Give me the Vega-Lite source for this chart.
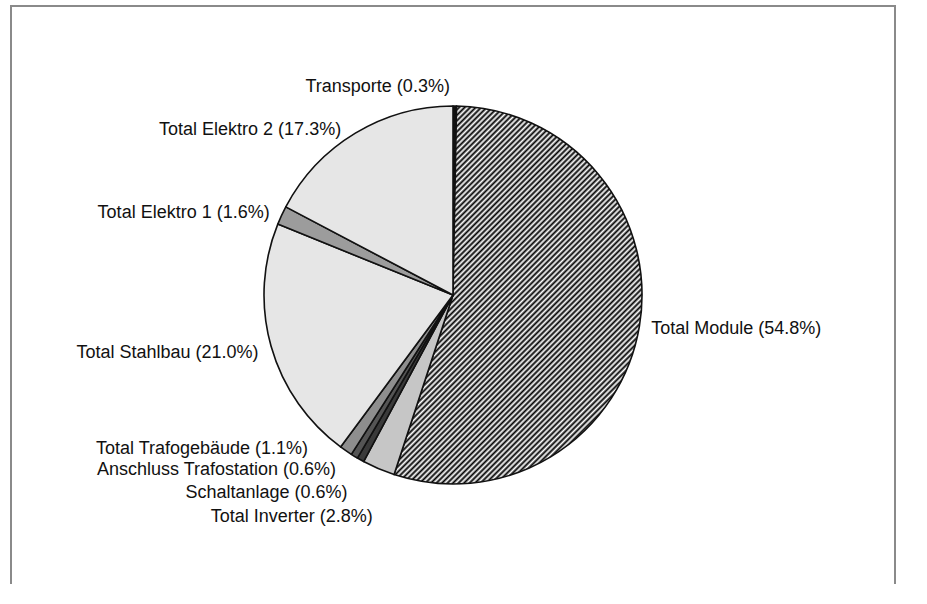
{
  "$schema": "https://vega.github.io/schema/vega-lite/v6.json",
  "autosize": "none",
  "width": 884,
  "height": 578,
  "padding": {"left": 11, "top": 6, "right": 32, "bottom": 20},
  "background": "white",
  "view": {"stroke": "#8a8a8a", "strokeWidth": 2, "strokeDash": [1462, 884, 600]},
  "config": {
    "text": {"font": "Liberation Sans", "fontSize": 18, "color": "#111", "baseline": "middle"}
  },
  "data": {
    "values": [
      {"pos": 1, "name": "Transporte", "share": 0.3},
      {"pos": 2, "name": "Total Module", "share": 54.8},
      {"pos": 3, "name": "Total Inverter", "share": 2.8},
      {"pos": 4, "name": "Schaltanlage", "share": 0.6},
      {"pos": 5, "name": "Anschluss Trafostation", "share": 0.6},
      {"pos": 6, "name": "Total Trafogebäude", "share": 1.1},
      {"pos": 7, "name": "Total Stahlbau", "share": 21.0},
      {"pos": 8, "name": "Total Elektro 1", "share": 1.6},
      {"pos": 9, "name": "Total Elektro 2", "share": 17.3}
    ]
  },
  "transform": [
    {"calculate": "datum.name + ' (' + format(datum.share, '.1f') + '%)'", "as": "label"}
  ],
  "encoding": {
    "theta": {"field": "share", "type": "quantitative", "stack": true},
    "order": {"field": "pos", "type": "quantitative", "sort": "ascending"}
  },
  "layer": [
    {
      "mark": {"type": "arc", "outerRadius": 189, "stroke": "#111", "strokeWidth": 1.6, "strokeJoin": "round"},
      "encoding": {
        "fill": {
          "condition": [
            {"test": "datum.name === 'Transporte'", "value": "#111"},
            {"test": "datum.name === 'Total Module'", "value": {
              "gradient": "linear", "x1": -0.1618, "y1": 0.2381, "x2": 0.5073, "y2": 1.2584,
              "stops": [
                {"offset":0,"color":"#000"},{"offset":0.005,"color":"#fff"},{"offset":0.01,"color":"#000"},{"offset":0.015,"color":"#fff"},
                {"offset":0.02,"color":"#000"},{"offset":0.025,"color":"#fff"},{"offset":0.03,"color":"#000"},{"offset":0.035,"color":"#fff"},
                {"offset":0.04,"color":"#000"},{"offset":0.045,"color":"#fff"},{"offset":0.05,"color":"#000"},{"offset":0.055,"color":"#fff"},
                {"offset":0.06,"color":"#000"},{"offset":0.065,"color":"#fff"},{"offset":0.07,"color":"#000"},{"offset":0.075,"color":"#fff"},
                {"offset":0.08,"color":"#000"},{"offset":0.085,"color":"#fff"},{"offset":0.09,"color":"#000"},{"offset":0.095,"color":"#fff"},
                {"offset":0.1,"color":"#000"},{"offset":0.105,"color":"#fff"},{"offset":0.11,"color":"#000"},{"offset":0.115,"color":"#fff"},
                {"offset":0.12,"color":"#000"},{"offset":0.125,"color":"#fff"},{"offset":0.13,"color":"#000"},{"offset":0.135,"color":"#fff"},
                {"offset":0.14,"color":"#000"},{"offset":0.145,"color":"#fff"},{"offset":0.15,"color":"#000"},{"offset":0.155,"color":"#fff"},
                {"offset":0.16,"color":"#000"},{"offset":0.165,"color":"#fff"},{"offset":0.17,"color":"#000"},{"offset":0.175,"color":"#fff"},
                {"offset":0.18,"color":"#000"},{"offset":0.185,"color":"#fff"},{"offset":0.19,"color":"#000"},{"offset":0.195,"color":"#fff"},
                {"offset":0.2,"color":"#000"},{"offset":0.205,"color":"#fff"},{"offset":0.21,"color":"#000"},{"offset":0.215,"color":"#fff"},
                {"offset":0.22,"color":"#000"},{"offset":0.225,"color":"#fff"},{"offset":0.23,"color":"#000"},{"offset":0.235,"color":"#fff"},
                {"offset":0.24,"color":"#000"},{"offset":0.245,"color":"#fff"},{"offset":0.25,"color":"#000"},{"offset":0.255,"color":"#fff"},
                {"offset":0.26,"color":"#000"},{"offset":0.265,"color":"#fff"},{"offset":0.27,"color":"#000"},{"offset":0.275,"color":"#fff"},
                {"offset":0.28,"color":"#000"},{"offset":0.285,"color":"#fff"},{"offset":0.29,"color":"#000"},{"offset":0.295,"color":"#fff"},
                {"offset":0.3,"color":"#000"},{"offset":0.305,"color":"#fff"},{"offset":0.31,"color":"#000"},{"offset":0.315,"color":"#fff"},
                {"offset":0.32,"color":"#000"},{"offset":0.325,"color":"#fff"},{"offset":0.33,"color":"#000"},{"offset":0.335,"color":"#fff"},
                {"offset":0.34,"color":"#000"},{"offset":0.345,"color":"#fff"},{"offset":0.35,"color":"#000"},{"offset":0.355,"color":"#fff"},
                {"offset":0.36,"color":"#000"},{"offset":0.365,"color":"#fff"},{"offset":0.37,"color":"#000"},{"offset":0.375,"color":"#fff"},
                {"offset":0.38,"color":"#000"},{"offset":0.385,"color":"#fff"},{"offset":0.39,"color":"#000"},{"offset":0.395,"color":"#fff"},
                {"offset":0.4,"color":"#000"},{"offset":0.405,"color":"#fff"},{"offset":0.41,"color":"#000"},{"offset":0.415,"color":"#fff"},
                {"offset":0.42,"color":"#000"},{"offset":0.425,"color":"#fff"},{"offset":0.43,"color":"#000"},{"offset":0.435,"color":"#fff"},
                {"offset":0.44,"color":"#000"},{"offset":0.445,"color":"#fff"},{"offset":0.45,"color":"#000"},{"offset":0.455,"color":"#fff"},
                {"offset":0.46,"color":"#000"},{"offset":0.465,"color":"#fff"},{"offset":0.47,"color":"#000"},{"offset":0.475,"color":"#fff"},
                {"offset":0.48,"color":"#000"},{"offset":0.485,"color":"#fff"},{"offset":0.49,"color":"#000"},{"offset":0.495,"color":"#fff"},
                {"offset":0.5,"color":"#000"},{"offset":0.505,"color":"#fff"},{"offset":0.51,"color":"#000"},{"offset":0.515,"color":"#fff"},
                {"offset":0.52,"color":"#000"},{"offset":0.525,"color":"#fff"},{"offset":0.53,"color":"#000"},{"offset":0.535,"color":"#fff"},
                {"offset":0.54,"color":"#000"},{"offset":0.545,"color":"#fff"},{"offset":0.55,"color":"#000"},{"offset":0.555,"color":"#fff"},
                {"offset":0.56,"color":"#000"},{"offset":0.565,"color":"#fff"},{"offset":0.57,"color":"#000"},{"offset":0.575,"color":"#fff"},
                {"offset":0.58,"color":"#000"},{"offset":0.585,"color":"#fff"},{"offset":0.59,"color":"#000"},{"offset":0.595,"color":"#fff"},
                {"offset":0.6,"color":"#000"},{"offset":0.605,"color":"#fff"},{"offset":0.61,"color":"#000"},{"offset":0.615,"color":"#fff"},
                {"offset":0.62,"color":"#000"},{"offset":0.625,"color":"#fff"},{"offset":0.63,"color":"#000"},{"offset":0.635,"color":"#fff"},
                {"offset":0.64,"color":"#000"},{"offset":0.645,"color":"#fff"},{"offset":0.65,"color":"#000"},{"offset":0.655,"color":"#fff"},
                {"offset":0.66,"color":"#000"},{"offset":0.665,"color":"#fff"},{"offset":0.67,"color":"#000"},{"offset":0.675,"color":"#fff"},
                {"offset":0.68,"color":"#000"},{"offset":0.685,"color":"#fff"},{"offset":0.69,"color":"#000"},{"offset":0.695,"color":"#fff"},
                {"offset":0.7,"color":"#000"},{"offset":0.705,"color":"#fff"},{"offset":0.71,"color":"#000"},{"offset":0.715,"color":"#fff"},
                {"offset":0.72,"color":"#000"},{"offset":0.725,"color":"#fff"},{"offset":0.73,"color":"#000"},{"offset":0.735,"color":"#fff"},
                {"offset":0.74,"color":"#000"},{"offset":0.745,"color":"#fff"},{"offset":0.75,"color":"#000"},{"offset":0.755,"color":"#fff"},
                {"offset":0.76,"color":"#000"},{"offset":0.765,"color":"#fff"},{"offset":0.77,"color":"#000"},{"offset":0.775,"color":"#fff"},
                {"offset":0.78,"color":"#000"},{"offset":0.785,"color":"#fff"},{"offset":0.79,"color":"#000"},{"offset":0.795,"color":"#fff"},
                {"offset":0.8,"color":"#000"},{"offset":0.805,"color":"#fff"},{"offset":0.81,"color":"#000"},{"offset":0.815,"color":"#fff"},
                {"offset":0.82,"color":"#000"},{"offset":0.825,"color":"#fff"},{"offset":0.83,"color":"#000"},{"offset":0.835,"color":"#fff"},
                {"offset":0.84,"color":"#000"},{"offset":0.845,"color":"#fff"},{"offset":0.85,"color":"#000"},{"offset":0.855,"color":"#fff"},
                {"offset":0.86,"color":"#000"},{"offset":0.865,"color":"#fff"},{"offset":0.87,"color":"#000"},{"offset":0.875,"color":"#fff"},
                {"offset":0.88,"color":"#000"},{"offset":0.885,"color":"#fff"},{"offset":0.89,"color":"#000"},{"offset":0.895,"color":"#fff"},
                {"offset":0.9,"color":"#000"},{"offset":0.905,"color":"#fff"},{"offset":0.91,"color":"#000"},{"offset":0.915,"color":"#fff"},
                {"offset":0.92,"color":"#000"},{"offset":0.925,"color":"#fff"},{"offset":0.93,"color":"#000"},{"offset":0.935,"color":"#fff"},
                {"offset":0.94,"color":"#000"},{"offset":0.945,"color":"#fff"},{"offset":0.95,"color":"#000"},{"offset":0.955,"color":"#fff"},
                {"offset":0.96,"color":"#000"},{"offset":0.965,"color":"#fff"},{"offset":0.97,"color":"#000"},{"offset":0.975,"color":"#fff"},
                {"offset":0.98,"color":"#000"},{"offset":0.985,"color":"#fff"},{"offset":0.99,"color":"#000"},{"offset":0.995,"color":"#fff"},
                {"offset":1,"color":"#000"}
              ]
            }},
            {"test": "datum.name === 'Total Inverter'", "value": "#c6c6c6"},
            {"test": "datum.name === 'Schaltanlage'", "value": "#3a3a3a"},
            {"test": "datum.name === 'Anschluss Trafostation'", "value": "#555555"},
            {"test": "datum.name === 'Total Trafogebäude'", "value": "#8e8e8e"},
            {"test": "datum.name === 'Total Elektro 1'", "value": "#9c9c9c"}
          ],
          "value": "#e6e6e6"
        }
      }
    },
    {
      "mark": {"type": "text", "radius": 201, "align": "left"},
      "encoding": {"text": {"condition": {"test": "datum.name === 'Total Module'", "field": "label"}, "value": ""}}
    },
    {
      "mark": {"type": "text", "radius": 201, "align": "right", "dx": -5, "dy": -7},
      "encoding": {"text": {"condition": {"test": "datum.name === 'Transporte'", "field": "label"}, "value": ""}}
    },
    {
      "mark": {"type": "text", "radius": 201, "align": "right", "dx": -8, "dy": 7},
      "encoding": {"text": {"condition": {"test": "datum.name === 'Total Elektro 2'", "field": "label"}, "value": ""}}
    },
    {
      "mark": {"type": "text", "radius": 201, "align": "right", "dx": -1, "dy": 3},
      "encoding": {"text": {"condition": {"test": "datum.name === 'Total Elektro 1' || datum.name === 'Total Stahlbau'", "field": "label"}, "value": ""}}
    },
    {
      "mark": {"type": "text", "radius": 201, "align": "right", "dx": -1, "dy": 37},
      "encoding": {"text": {"condition": {"test": "datum.name === 'Total Inverter'", "field": "label"}, "value": ""}}
    },
    {
      "mark": {"type": "text", "radius": 201, "align": "right", "dx": -7, "dy": 23},
      "encoding": {"text": {"condition": {"test": "datum.name === 'Schaltanlage'", "field": "label"}, "value": ""}}
    },
    {
      "mark": {"type": "text", "radius": 201, "align": "right", "dx": -12, "dy": 4},
      "encoding": {"text": {"condition": {"test": "datum.name === 'Anschluss Trafostation'", "field": "label"}, "value": ""}}
    },
    {
      "mark": {"type": "text", "radius": 201, "align": "right", "dx": -31, "dy": -12},
      "encoding": {"text": {"condition": {"test": "datum.name === 'Total Trafogebäude'", "field": "label"}, "value": ""}}
    }
  ]
}
